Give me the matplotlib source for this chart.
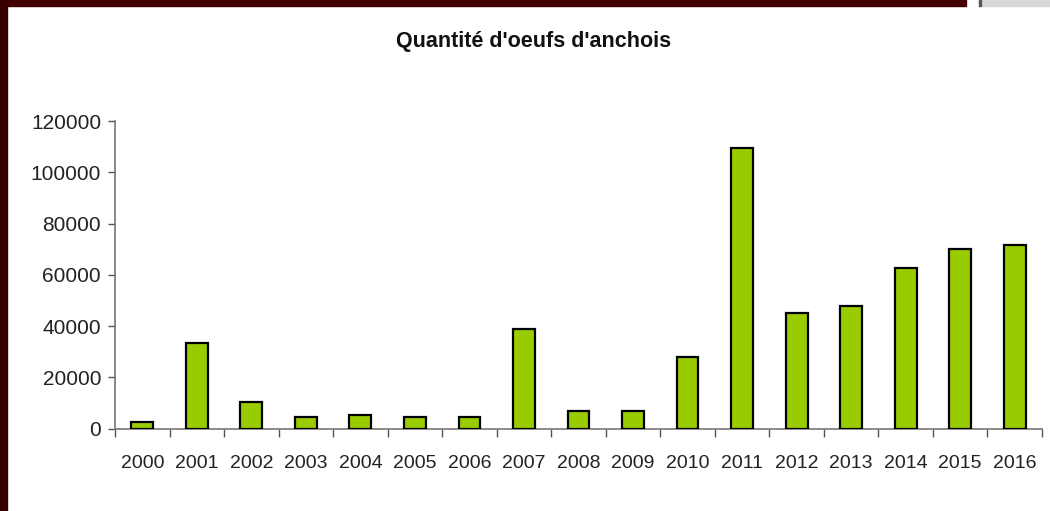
import matplotlib.pyplot as plt
from matplotlib.patches import Rectangle
import numpy as np

plt.rcParams['font.family'] = ['Liberation Sans', 'DejaVu Sans']

# data
years = [str(y) for y in range(2000, 2017)]
eggs = [2500, 33500, 10500, 4300, 5300, 4300, 4300, 39000, 7000, 7000,
        28000, 109500, 45000, 47800, 62800, 70000, 71700]
yticks = [0, 20000, 40000, 60000, 80000, 100000, 120000]

fig = plt.figure(figsize=(10.5, 5.11), dpi=100)
W, H = 1050, 511

# dark red frame on top / left, grey box top right
fig.patches.append(Rectangle((0, 1 - 6 / H), 966 / W, 6 / H, transform=fig.transFigure,
                             color="#420000", zorder=0))
fig.patches.append(Rectangle((0, 0), 7 / W, 1, transform=fig.transFigure,
                             color="#360000", zorder=0))
fig.patches.append(Rectangle((979 / W, 1 - 6 / H), 71 / W, 6 / H, transform=fig.transFigure,
                             color="#d8d8d8", zorder=0))
fig.patches.append(Rectangle((979 / W, 1 - 6 / H), 2 / W, 6 / H, transform=fig.transFigure,
                             color="#555555", zorder=0))

ax = fig.add_axes([115 / W, 1 - 428.5 / H, 927 / W, 307.5 / H])
x = np.arange(len(years))
ax.bar(x, eggs, width=0.4, color="#99cc00", edgecolor="black", linewidth=1.6, zorder=3)

ax.set_xlim(-0.5, len(years) - 0.5)
ax.set_ylim(0, 120000)
ax.set_yticks(yticks)
ax.set_yticklabels([str(v) for v in yticks], fontsize=15, color="#222222")
ax.set_xticks(x)
ax.set_xticklabels(years, fontsize=14, color="#222222")
ax.tick_params(axis="x", length=0, pad=19)
ax.set_xticks(np.arange(-0.5, len(years)), minor=True)
ax.tick_params(axis="x", which="minor", length=6, color="#555555", width=1)
ax.tick_params(axis="y", length=5, color="#555555", width=1, pad=5)

for s in ["top", "right"]:
    ax.spines[s].set_visible(False)
for s in ["left", "bottom"]:
    ax.spines[s].set_color("#777777")
    ax.spines[s].set_linewidth(1.2)

fig.text(534 / W, 1 - 41 / H, "Quantité d'oeufs d'anchois", ha="center", va="center",
         fontsize=15.5, fontweight="bold", color="#111111")

fig.savefig("out.png", dpi=100)
